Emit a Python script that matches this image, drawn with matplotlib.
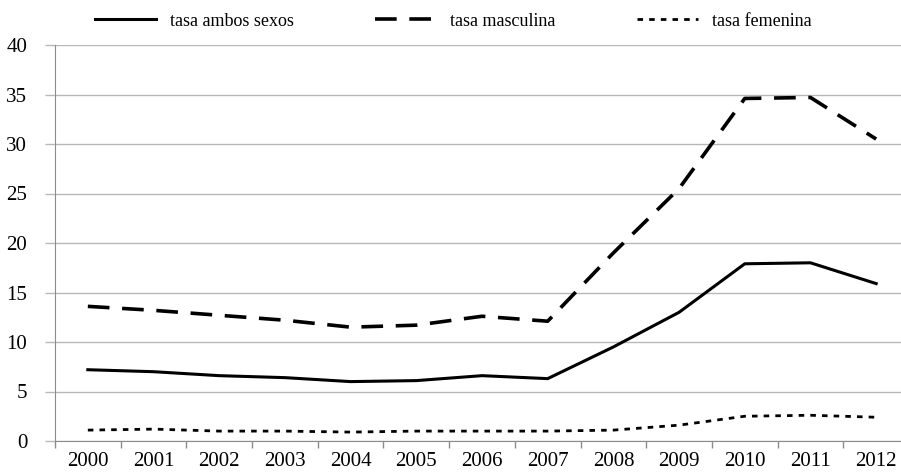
import numpy as np
from matplotlib import pyplot as plt
from matplotlib.ticker import FixedLocator, MultipleLocator

years = [str(y) for y in range(2000, 2013)]
tasa_ambos = [7.2, 7.0, 6.6, 6.4, 6.0, 6.1, 6.6, 6.3, 9.5, 13.0, 17.9, 18.0, 15.9]
tasa_masc = [13.6, 13.2, 12.7, 12.2, 11.5, 11.7, 12.6, 12.1, 19.0, 25.5, 34.6, 34.7, 30.5]
tasa_fem = [1.1, 1.2, 1.0, 1.0, 0.9, 1.0, 1.0, 1.0, 1.1, 1.6, 2.5, 2.6, 2.4]

plt.rcParams["font.family"] = ["Liberation Serif", "DejaVu Serif"]

fig = plt.figure(figsize=(9.01, 4.76), dpi=100)
ax = fig.add_axes([55 / 901, 35 / 476, 854 / 901, 396 / 476])

x = np.arange(len(years))
ax.plot(x, tasa_ambos, color="black", lw=2.2, ls="-", label="tasa ambos sexos")
ax.plot(x, tasa_masc, color="black", lw=2.6, ls=(0, (6, 3.5)), label="tasa masculina")
ax.plot(x, tasa_fem, color="black", lw=2.0, ls=(0, (2, 2.2)), label="tasa femenina")

ax.set_xlim(-0.5, len(years) - 0.5)
ax.set_ylim(0, 40)
ax.yaxis.set_major_locator(MultipleLocator(5))
ax.grid(axis="y", color="#b8b8b8", lw=1)
ax.set_axisbelow(True)

ax.xaxis.set_major_locator(FixedLocator(np.arange(-0.5, len(years), 1)))
ax.set_xticklabels([])
ax.xaxis.set_minor_locator(FixedLocator(x))
ax.set_xticklabels(years, minor=True)
ax.tick_params(axis="x", which="major", length=5, color="#8c8c8c", width=1)
ax.tick_params(axis="x", which="minor", length=0, labelsize=15, pad=8)
ax.tick_params(axis="y", length=7, color="#b8b8b8", width=1, labelsize=15, pad=13)

for s in ["top", "right"]:
    ax.spines[s].set_visible(False)
ax.spines["left"].set_color("#8c8c8c")
ax.spines["bottom"].set_color("#8c8c8c")

fig.legend(loc="center left", bbox_to_anchor=(95 / 901, 1 - 21 / 476), ncol=3, frameon=False,
           fontsize=13, handlelength=3.4, columnspacing=4.5, handletextpad=0.75,
           borderpad=0, borderaxespad=0)

fig.savefig("out.png", dpi=100)
